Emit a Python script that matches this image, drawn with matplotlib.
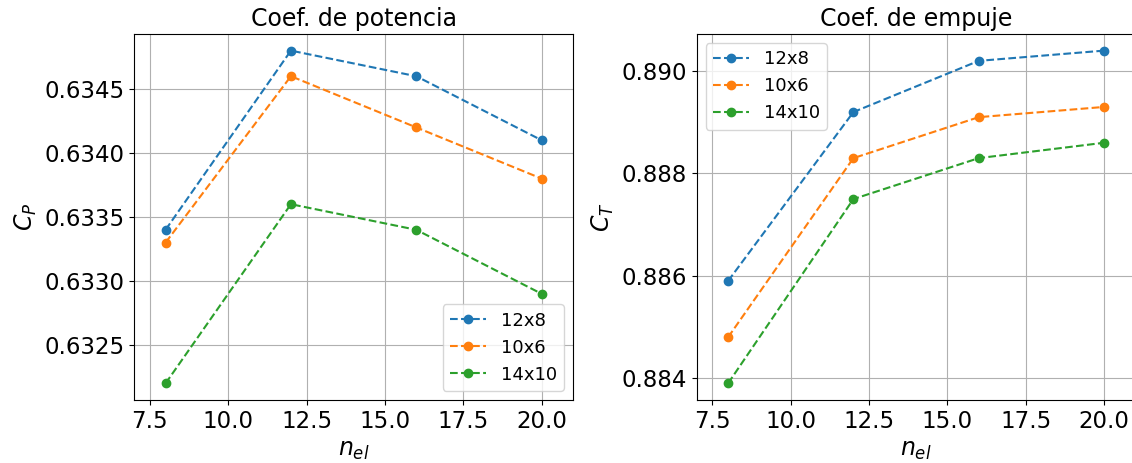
import matplotlib
matplotlib.use("Agg")
import matplotlib.pyplot as plt

n_el = [8, 12, 16, 20]
labels = ["12x8", "10x6", "14x10"]

cp_12x8 = [0.6334, 0.6348, 0.6346, 0.6341]
cp_10x6 = [0.6333, 0.6346, 0.6342, 0.6338]
cp_14x10 = [0.6322, 0.6336, 0.6334, 0.6329]

ct_12x8 = [0.8859, 0.8892, 0.8902, 0.8904]
ct_10x6 = [0.8848, 0.8883, 0.8891, 0.8893]
ct_14x10 = [0.8839, 0.8875, 0.8883, 0.8886]

fig = plt.figure(figsize=(11.32, 4.63), dpi=100)
ax1 = fig.add_axes([0.1186, 0.1361, 0.3875, 0.7905])
ax2 = fig.add_axes([0.6155, 0.1361, 0.3875, 0.7905])

for vals, lab in zip([cp_12x8, cp_10x6, cp_14x10], labels):
    ax1.plot(n_el, vals, "o--", label=lab)
ax1.set_title("Coef. de potencia", fontsize=17)
ax1.set_xlabel("$n_{el}$", fontsize=17)
ax1.set_ylabel("$C_P$", fontsize=17)
ax1.legend(fontsize=13, loc="lower right")
ax1.grid(True)
ax1.tick_params(labelsize=16.5)
ax1.set_xlim(7, 21)

for vals, lab in zip([ct_12x8, ct_10x6, ct_14x10], labels):
    ax2.plot(n_el, vals, "o--", label=lab)
ax2.set_title("Coef. de empuje", fontsize=17)
ax2.set_xlabel("$n_{el}$", fontsize=17)
ax2.set_ylabel("$C_T$", fontsize=17)
ax2.legend(fontsize=13, loc="upper left")
ax2.grid(True)
ax2.tick_params(labelsize=16.5)
ax2.set_xlim(7, 21)
ax2.set_yticks([0.884, 0.886, 0.888, 0.890])

plt.savefig("out.png")
